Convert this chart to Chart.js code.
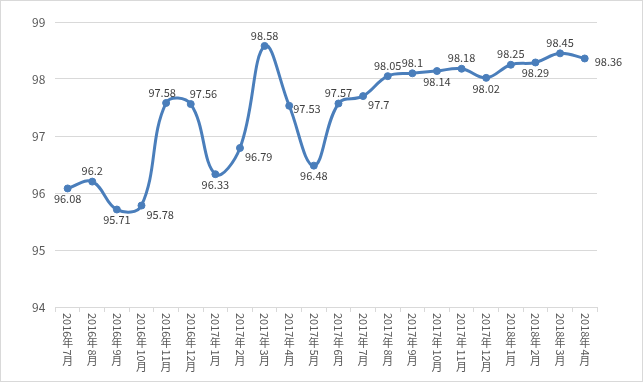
<!DOCTYPE html>
<html><head><meta charset="utf-8">
<script src="https://cdn.jsdelivr.net/npm/chart.js@4/dist/chart.umd.min.js"></script>
<style>
html,body{margin:0;padding:0;background:#fff;}
#wrap{position:relative;width:641px;height:380px;border:1px solid #d9d9d9;}
</style></head>
<body>
<div id="wrap"><canvas id="c" width="641" height="380"></canvas></div>
<script>
const categories = ['2016年7月','2016年8月','2016年9月','2016年10月','2016年11月','2016年12月','2017年1月','2017年2月','2017年3月','2017年4月','2017年5月','2017年6月','2017年7月','2017年8月','2017年9月','2017年10月','2017年11月','2017年12月','2018年1月','2018年2月','2018年3月','2018年4月'];
const values = [96.08,96.2,95.71,95.78,97.58,97.56,96.33,96.79,98.58,97.53,96.48,97.57,97.7,98.05,98.1,98.14,98.18,98.02,98.25,98.29,98.45,98.36];
const yTicks = [94,95,96,97,98,99];
// label placement per point (style only)
const labelPlace = ['below','above','below','belowRight','aboveLeft','aboveRight','below','belowRight','above','right','below','above','belowRight','above','above','below','above','below','above','below','above','farRight'];

const LINE = '#4a7ebb';
const TXT = '#404040';
const FONT = '"Noto Sans CJK SC","Liberation Sans",sans-serif';

const dataLabels = {
  id:'dataLabels',
  afterDatasetsDraw(chart){
    const ctx = chart.ctx;
    const meta = chart.getDatasetMeta(0);
    ctx.save();
    ctx.font = '11px ' + FONT;
    ctx.fillStyle = TXT;
    meta.data.forEach((pt,i)=>{
      const t = String(values[i]);
      const p = labelPlace[i];
      let x = pt.x, y = pt.y;
      if(p==='above'){ctx.textAlign='center';ctx.textBaseline='bottom';y-=5;}
      else if(p==='aboveLeft'){ctx.textAlign='center';ctx.textBaseline='bottom';y-=5;x-=4;}
      else if(p==='aboveRight'){ctx.textAlign='left';ctx.textBaseline='bottom';y-=5;x-=1;}
      else if(p==='below'){ctx.textAlign='center';ctx.textBaseline='top';y+=5;}
      else if(p==='belowRight'){ctx.textAlign='left';ctx.textBaseline='middle';x+=5;y+=9;}
      else if(p==='right'){ctx.textAlign='left';ctx.textBaseline='middle';x+=4;y+=3;}
      else if(p==='farRight'){ctx.textAlign='left';ctx.textBaseline='middle';x+=10;y+=3;}
      ctx.fillText(t,x,y);
    });
    ctx.restore();
  }
};

const verticalX = {
  id:'verticalX',
  afterDraw(chart){
    const ctx = chart.ctx;
    const sc = chart.scales.x;
    ctx.save();
    ctx.font = '11px ' + FONT;
    ctx.fillStyle = '#595959';
    categories.forEach((lab,i)=>{
      const x = sc.getPixelForValue(i);
      let y = sc.top + 6;
      for(const ch of lab){
        if(/[\u4e00-\u9fff]/.test(ch)){
          ctx.textAlign='center';ctx.textBaseline='top';
          ctx.fillText(ch,x,y);
          y += 12;
        } else {
          const w = ctx.measureText(ch).width;
          ctx.save();
          ctx.translate(x,y);
          ctx.rotate(Math.PI/2);
          ctx.textAlign='left';ctx.textBaseline='middle';
          ctx.fillText(ch,0,0);
          ctx.restore();
          y += w;
        }
      }
    });
    ctx.restore();
  }
};

new Chart(document.getElementById('c'),{
  type:'line',
  data:{labels:categories,datasets:[{
    data:values,borderColor:LINE,backgroundColor:LINE,borderWidth:3,
    pointRadius:3.5,pointBorderWidth:1,pointHoverRadius:3.5,pointBackgroundColor:LINE,pointBorderColor:LINE,
    tension:0.4,fill:false
  }]},
  options:{
    responsive:false,animation:false,
    layout:{padding:{left:21,right:45,top:21,bottom:69}},
    plugins:{legend:{display:false},tooltip:{enabled:false}},
    scales:{
      x:{offset:true,
        grid:{offset:true,drawOnChartArea:false,drawTicks:true,tickLength:5,color:'#d9d9d9'},
        border:{display:true,color:'#d9d9d9'},
        ticks:{display:false}},
      y:{min:94,max:99,
        afterBuildTicks(s){s.ticks=yTicks.map(v=>({value:v}));},
        grid:{color:'#d9d9d9',drawTicks:false},
        border:{display:false},
        ticks:{padding:10,color:'#595959',font:{size:12,family:FONT}}}
    }
  },
  plugins:[dataLabels,verticalX]
});
</script>
</body></html>
